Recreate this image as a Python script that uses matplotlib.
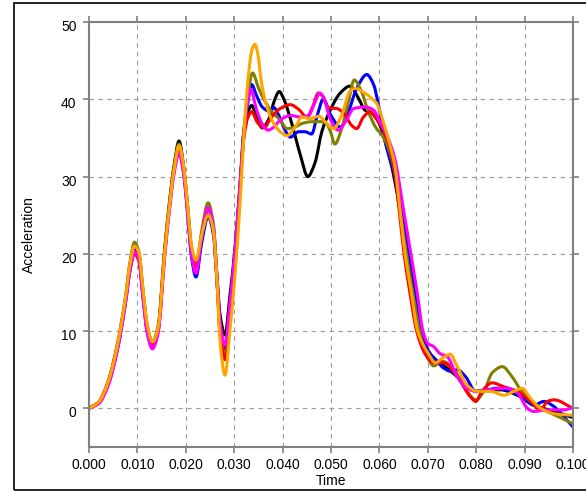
import numpy as np
import matplotlib
matplotlib.use("Agg")
from matplotlib import pyplot as plt
from matplotlib.path import Path
from matplotlib.patches import PathPatch, Rectangle
from matplotlib.transforms import ScaledTranslation

plt.rcParams['font.family'] = ['Liberation Sans', 'DejaVu Sans']

# shared time base for the first three pulses
t_early = [0.000, 0.002, 0.004, 0.006, 0.0075, 0.0085, 0.0094, 0.0103, 0.0112, 0.0120,
           0.0131, 0.0143, 0.0156, 0.0166, 0.0176, 0.0186, 0.0195, 0.0203, 0.0212, 0.0221,
           0.0233, 0.0246, 0.0257, 0.0264, 0.0271, 0.0281, 0.0291, 0.0302, 0.0312]

a_black_early = [0, 0.8, 3.5, 8.5, 14, 18.8, 21.2, 20.0, 14.8, 10.6, 8.4, 10.5, 20.2, 26.5, 31.5,
                 34.6, 31.5, 26.5, 20.3, 17.6, 22.2, 26.0, 23.5, 17.5, 12.0, 9.5, 14.5, 21.0, 29.0]
a_blue_early = [0, 0.7, 3.2, 8.0, 13.5, 18.0, 20.5, 19.3, 14.3, 10.3, 8.2, 10.3, 19.8, 26.0, 31.0,
                33.6, 31.0, 25.8, 19.5, 17.0, 21.5, 24.8, 22.5, 16.8, 10.5, 7.5, 13.0, 20.5, 28.5]
a_red_early = [0, 0.8, 3.5, 8.5, 13.8, 18.0, 20.0, 19.0, 14.2, 10.0, 7.9, 10.2, 19.8, 26.0, 30.8,
               33.5, 30.8, 26.0, 20.0, 18.0, 22.5, 25.8, 23.0, 16.8, 9.5, 6.3, 12.0, 20.5, 28.8]
a_magenta_early = [0, 0.6, 3.0, 8.0, 13.5, 18.0, 20.3, 19.2, 14.0, 9.8, 7.7, 9.8, 19.3, 25.5, 30.5,
                   33.0, 30.5, 25.8, 19.8, 17.5, 22.2, 26.0, 23.2, 17.2, 11.0, 8.2, 13.5, 20.5, 28.5]
a_olive_early = [0, 0.8, 3.6, 8.8, 14.3, 19.0, 21.5, 20.3, 15.0, 10.8, 8.6, 10.8, 20.5, 26.5, 31.3,
                 34.2, 31.5, 26.8, 20.8, 18.5, 23.0, 26.6, 23.8, 17.3, 10.0, 6.9, 12.5, 20.5, 28.5]
a_orange_early = [0, 0.8, 3.5, 8.6, 14.2, 18.8, 21.0, 20.2, 15.2, 11.0, 8.6, 10.5, 19.8, 26.0, 31.0,
                  34.0, 31.5, 26.8, 21.0, 19.2, 22.5, 25.0, 23.0, 17.0, 8.5, 4.3, 10.0, 17.5, 26.5]

# plateau, drop and tail
t_black = [0.0320, 0.0328, 0.0336, 0.0346, 0.0358, 0.0372, 0.0384, 0.0393, 0.0404, 0.0416, 0.0427,
           0.0437, 0.0452, 0.0467, 0.0481, 0.0500, 0.0519, 0.0539, 0.0557, 0.0570, 0.0584, 0.0598,
           0.0612, 0.0630, 0.0644, 0.0657, 0.0670, 0.0683, 0.0700, 0.0720, 0.0740, 0.0768, 0.0800,
           0.0823, 0.0850, 0.0885, 0.0919, 0.0961, 0.1000]
a_black = [36.0, 38.3, 39.2, 37.8, 36.3, 37.5, 40.0, 41.0, 39.8, 37.5, 35.0, 32.7, 30.0, 31.8, 35.8,
           38.8, 40.8, 41.7, 40.1, 38.6, 38.2, 37.1, 34.5, 30.0, 25.0, 20.0, 15.0, 10.0, 7.4, 6.1,
           5.2, 3.7, 2.2, 2.4, 2.4, 1.7, 0.4, -0.4, -1.2]

t_blue = [0.0320, 0.0328, 0.0336, 0.0346, 0.0358, 0.0371, 0.0382, 0.0393, 0.0405, 0.0416, 0.0433,
          0.0446, 0.0460, 0.0472, 0.0484, 0.0500, 0.0519, 0.0536, 0.0553, 0.0574, 0.0588, 0.0598,
          0.0612, 0.0632, 0.0647, 0.0662, 0.0675, 0.0688, 0.0700, 0.0719, 0.0733, 0.0747, 0.0761,
          0.0778, 0.0799, 0.0823, 0.0843, 0.0871, 0.0899, 0.0919, 0.0940, 0.0957, 0.1000]
a_blue = [35.5, 39.5, 41.9, 40.5, 39.0, 38.5, 38.9, 37.8, 36.0, 35.1, 35.8, 35.8, 35.5, 38.0, 40.0,
          37.9, 36.4, 38.4, 41.4, 43.2, 41.9, 39.3, 34.5, 30.0, 25.0, 20.0, 15.0, 10.0, 7.6, 6.1,
          5.2, 4.8, 5.0, 4.1, 2.2, 2.4, 2.6, 2.2, 1.3, 0.4, 0.9, 0.4, -2.4]

t_red = [0.0320, 0.0328, 0.0336, 0.0348, 0.0362, 0.0375, 0.0395, 0.0416, 0.0433, 0.0450, 0.0462,
         0.0474, 0.0484, 0.0494, 0.0512, 0.0526, 0.0543, 0.0553, 0.0567, 0.0581, 0.0591, 0.0605,
         0.0619, 0.0632, 0.0642, 0.0651, 0.0663, 0.0677, 0.0695, 0.0712, 0.0733, 0.0761, 0.0788,
         0.0799, 0.0812, 0.0833, 0.0857, 0.0885, 0.0912, 0.0933, 0.0947, 0.0961, 0.1000]
a_red = [35.0, 37.6, 38.4, 37.0, 36.3, 37.5, 38.8, 39.3, 38.7, 37.7, 39.0, 40.8, 40.3, 38.9, 38.8,
         38.2, 36.6, 36.2, 37.7, 38.4, 37.7, 36.4, 34.2, 30.5, 25.0, 20.0, 15.0, 10.0, 7.0, 5.9,
         5.9, 4.1, 1.5, 0.9, 2.2, 3.3, 2.8, 2.2, 0.9, -0.2, 0.9, 1.1, 0.0]

t_magenta = [0.0320, 0.0326, 0.0334, 0.0346, 0.0358, 0.0370, 0.0382, 0.0395, 0.0416, 0.0437, 0.0454,
             0.0466, 0.0477, 0.0486, 0.0498, 0.0515, 0.0530, 0.0547, 0.0570, 0.0588, 0.0601, 0.0615,
             0.0632, 0.0649, 0.0665, 0.0678, 0.0690, 0.0700, 0.0712, 0.0725, 0.0740, 0.0761, 0.0781,
             0.0800, 0.0837, 0.0864, 0.0885, 0.0906, 0.0919, 0.0947, 0.0981, 0.1000]
a_magenta = [35.5, 39.0, 41.3, 38.7, 36.8, 36.0, 36.4, 37.3, 37.9, 37.7, 37.9, 39.5, 40.8, 40.0, 37.5,
             36.0, 37.1, 38.8, 39.0, 38.6, 37.1, 35.4, 32.3, 26.0, 20.0, 15.0, 10.0, 8.4, 8.0, 7.1,
             6.7, 4.1, 2.6, 2.2, 2.5, 2.6, 2.0, 0.0, -0.4, -0.2, -0.2, 0.1]

t_olive = [0.0320, 0.0328, 0.0338, 0.0350, 0.0358, 0.0375, 0.0395, 0.0409, 0.0425, 0.0442, 0.0460,
           0.0478, 0.0490, 0.0499, 0.0508, 0.0522, 0.0536, 0.0548, 0.0563, 0.0577, 0.0594, 0.0605,
           0.0619, 0.0632, 0.0644, 0.0656, 0.0669, 0.0683, 0.0700, 0.0712, 0.0730, 0.0754, 0.0781,
           0.0799, 0.0816, 0.0833, 0.0854, 0.0874, 0.0892, 0.0919, 0.0947, 0.0974, 0.1000]
a_olive = [36.0, 40.5, 43.4, 41.5, 40.4, 38.6, 37.3, 36.2, 36.4, 36.9, 37.1, 37.1, 36.9, 35.8, 34.2,
           36.2, 39.7, 42.5, 41.0, 38.4, 36.2, 35.4, 33.6, 30.5, 25.0, 20.0, 15.0, 10.0, 6.5, 5.5,
           6.1, 5.0, 2.2, 1.1, 2.2, 4.6, 5.4, 4.1, 2.4, 0.7, -0.4, -1.2, -2.0]

t_orange = [0.0322, 0.0330, 0.0337, 0.0343, 0.0349, 0.0355, 0.0361, 0.0378, 0.0395, 0.0409, 0.0426,
            0.0440, 0.0457, 0.0475, 0.0488, 0.0505, 0.0522, 0.0539, 0.0550, 0.0570, 0.0584, 0.0594,
            0.0608, 0.0622, 0.0632, 0.0642, 0.0653, 0.0666, 0.0679, 0.0700, 0.0716, 0.0730, 0.0746,
            0.0761, 0.0781, 0.0802, 0.0830, 0.0857, 0.0878, 0.0895, 0.0912, 0.0933, 0.0961, 0.1000]
a_orange = [37.3, 43.5, 46.5, 47.1, 45.8, 42.8, 40.6, 37.3, 35.8, 35.3, 36.4, 37.7, 37.5, 37.8, 37.1,
            36.2, 37.9, 41.0, 41.4, 40.8, 40.1, 39.5, 37.1, 34.0, 31.4, 26.0, 20.0, 15.0, 10.0, 7.2,
            5.9, 6.5, 7.0, 5.4, 3.0, 2.2, 2.2, 1.7, 2.2, 2.6, 1.3, 0.0, -0.7, -0.9]


def smooth_path(x, y):
    # monotone cubic through the points, written as bezier segments
    x = np.asarray(x, float)
    y = np.asarray(y, float)
    h = np.diff(x)
    d = np.diff(y) / h
    m = np.zeros_like(y)
    m[0], m[-1] = d[0], d[-1]
    for k in range(1, len(x) - 1):
        if d[k - 1] * d[k] > 0:
            w1 = 2 * h[k] + h[k - 1]
            w2 = h[k] + 2 * h[k - 1]
            m[k] = (w1 + w2) / (w1 / d[k - 1] + w2 / d[k])
    verts = [(x[0], y[0])]
    codes = [Path.MOVETO]
    for i in range(len(x) - 1):
        verts += [(x[i] + h[i] / 3, y[i] + m[i] * h[i] / 3),
                  (x[i + 1] - h[i] / 3, y[i + 1] - m[i + 1] * h[i] / 3),
                  (x[i + 1], y[i + 1])]
        codes += [Path.CURVE4] * 3
    return Path(verts, codes)


fig = plt.figure(figsize=(5.86, 4.93), dpi=100)
ax = fig.add_axes([0.1519, 0.0933, 0.8259, 0.8621])

curves = [(a_black_early, t_black, a_black, 'black'),
          (a_blue_early, t_blue, a_blue, 'blue'),
          (a_olive_early, t_olive, a_olive, 'olive'),
          (a_red_early, t_red, a_red, 'red'),
          (a_magenta_early, t_magenta, a_magenta, 'magenta'),
          (a_orange_early, t_orange, a_orange, 'orange')]
for early, t, a, c in curves:
    p = smooth_path(t_early + t, early + a)
    ax.add_patch(PathPatch(p, fill=False, edgecolor=c, lw=2.2,
                           capstyle='round', joinstyle='round'))

ax.set_xlim(0, 0.1)
ax.set_ylim(-5, 50)
ax.set_xticks(np.arange(0, 0.1001, 0.01))
ax.set_xticklabels(['%.3f' % v for v in np.arange(0, 0.1001, 0.01)])
ax.set_yticks([0, 10, 20, 30, 40, 50])
ax.grid(True, color='#9a9a9a', linestyle=(0, (4, 4)), lw=0.8)
ax.set_axisbelow(True)
for s in ax.spines.values():
    s.set_color('#808080')
    s.set_linewidth(1.5)
ax.tick_params(direction='out', length=4, width=1.2, color='#808080',
               top=True, right=True, labeltop=False, labelright=False,
               labelsize=10, pad=4)
ax.tick_params(axis='y', pad=5)
# y labels sit a little below their ticks
shift = ScaledTranslation(0, -2.5 / 72, fig.dpi_scale_trans)
for lbl in ax.get_yticklabels():
    lbl.set_transform(lbl.get_transform() + shift)

ax.set_xlabel('Time', fontsize=10)
ax.set_ylabel('Acceleration', fontsize=10)
ax.xaxis.set_label_coords(0.5, -0.063)
ax.yaxis.set_label_coords(-0.11, 0.5)

# outer frame
fig.patches.append(Rectangle((14 / 586, 3 / 493), 1.0, 487 / 493, transform=fig.transFigure,
                             fill=False, edgecolor='black', lw=1.2, clip_on=False))

fig.savefig('out.png', dpi=100)
